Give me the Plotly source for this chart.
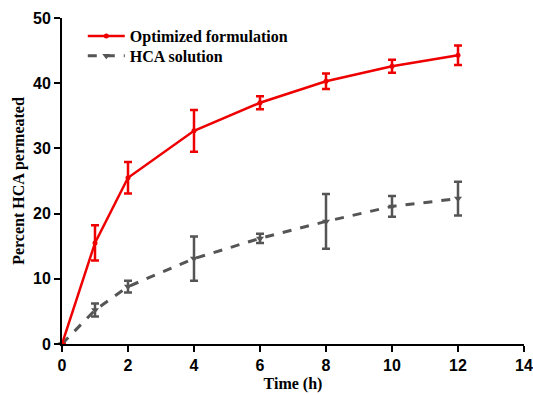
import plotly.graph_objects as go

time_h = [0, 1, 2, 4, 6, 8, 10, 12]
opt_vals = [0, 15.5, 25.5, 32.7, 37.0, 40.3, 42.6, 44.3]
opt_err = [0, 2.7, 2.4, 3.2, 1.0, 1.2, 1.0, 1.5]
hca_vals = [0, 5.2, 8.8, 13.1, 16.2, 18.8, 21.1, 22.3]
hca_err = [0, 1.0, 0.9, 3.4, 0.7, 4.2, 1.6, 2.6]

x_ticks = [0, 2, 4, 6, 8, 10, 12, 14]
y_ticks = [0, 10, 20, 30, 40, 50]

fig = go.Figure()
fig.add_trace(go.Scatter(
    x=time_h, y=hca_vals, name="HCA solution", mode="lines+markers",
    line=dict(color="#555555", width=3, dash="dash"),
    marker=dict(symbol="triangle-down", size=7, color="#555555"),
    error_y=dict(type="data", array=hca_err, color="#555555", thickness=2.5, width=4),
    cliponaxis=False, legend="legend2",
))
fig.add_trace(go.Scatter(
    x=time_h, y=opt_vals, name="Optimized formulation", mode="lines+markers",
    line=dict(color="#ee0000", width=2.5),
    marker=dict(symbol="circle", size=5, color="#ee0000"),
    error_y=dict(type="data", array=opt_err, color="#ee0000", thickness=2.5, width=4),
    cliponaxis=False, legend="legend",
))

legend_font = dict(family="Liberation Serif", size=16, color="black", weight="bold")

fig.update_layout(
    width=533, height=395,
    margin=dict(l=62, r=9, t=18, b=51, autoexpand=False),
    paper_bgcolor="white", plot_bgcolor="white",
    showlegend=True,
    legend=dict(
        x=0.045, y=0.997, xanchor="left", yanchor="top",
        font=legend_font, bgcolor="rgba(0,0,0,0)", itemwidth=37,
    ),
    legend2=dict(
        x=0.045, y=0.936, xanchor="left", yanchor="top",
        font=legend_font, bgcolor="rgba(0,0,0,0)", itemwidth=37,
    ),
    xaxis=dict(
        range=[0, 14], tickvals=x_ticks, showgrid=False, zeroline=False,
        showline=True, linecolor="black", linewidth=2,
        ticks="outside", ticklen=6, tickwidth=2, tickcolor="black",
        tickfont=dict(family="Liberation Sans", size=16, color="black", weight="bold"),
        title=dict(text="Time (h)", standoff=5,
                   font=dict(family="Liberation Serif", size=16, color="black", weight="bold")),
    ),
    yaxis=dict(
        range=[0, 50], tickvals=y_ticks, showgrid=False, zeroline=False,
        showline=True, linecolor="black", linewidth=2,
        ticks="outside", ticklen=6, tickwidth=2, tickcolor="black",
        tickfont=dict(family="Liberation Sans", size=16, color="black", weight="bold"),
        title=dict(text="Percent HCA permeated", standoff=4,
                   font=dict(family="Liberation Serif", size=16, color="black", weight="bold")),
    ),
)

fig.write_html("out.html")
